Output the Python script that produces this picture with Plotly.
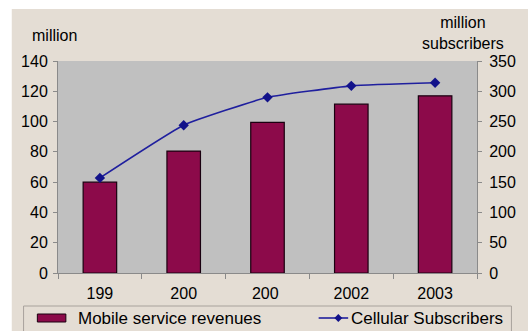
import plotly.graph_objects as go

years = ["199", "200", "200 ", "2002", "2003"]
revenues = [60, 80.5, 99.5, 111.5, 117]
subscribers = [157, 244, 290, 309, 314]
left_ticks = [0, 20, 40, 60, 80, 100, 120, 140]
right_ticks = [0, 50, 100, 150, 200, 250, 300, 350]

BEIGE = "#e4ddd4"
PLOT_BG = "#c0c0c0"
BAR = "#8c0a4a"
LINE = "#1f1f9e"
AX = "#8a8a8a"
FONT = "Liberation Sans, Arial, sans-serif"

W, H = 528, 331
L, R, T, B = 58, 44, 61, 58
PW, PH = W - L - R, H - T - B


def px(x):
    return (x - L) / PW


def py(y):
    return (H - B - y) / PH


fig = go.Figure()
fig.add_trace(go.Bar(
    x=years, y=revenues, name="Mobile service revenues",
    marker=dict(color=BAR, line=dict(color="#1a0010", width=1.2)),
    width=0.4, yaxis="y", showlegend=False,
))
fig.add_trace(go.Scatter(
    x=years, y=subscribers, name="Cellular Subscribers",
    mode="lines+markers", line=dict(color=LINE, width=1.6, shape="spline", smoothing=0.4),
    marker=dict(symbol="diamond", size=8, color="#12128a"),
    yaxis="y2", showlegend=False,
))

shapes = [
    # white margins top and left
    dict(type="rect", xref="paper", yref="paper", x0=-1, x1=2, y0=py(9), y1=py(-10),
         fillcolor="white", line=dict(width=0), layer="below"),
    dict(type="rect", xref="paper", yref="paper", x0=px(-10), x1=px(11), y0=-2, y1=2,
         fillcolor="white", line=dict(width=0), layer="below"),
    # legend box
    dict(type="rect", xref="paper", yref="paper", x0=px(23), x1=px(519), y0=py(345), y1=py(306),
         fillcolor=BEIGE, line=dict(color="#a8a29c", width=1)),
    dict(type="rect", xref="paper", yref="paper", x0=px(37), x1=px(66), y0=py(322), y1=py(314),
         fillcolor=BAR, line=dict(color="#1a0010", width=1)),
    dict(type="line", xref="paper", yref="paper", x0=px(323), x1=px(353), y0=py(318), y1=py(318),
         line=dict(color=LINE, width=1.6)),
    dict(type="path", xref="paper", yref="paper",
         path=f"M {px(339)},{py(318)} L {px(343)},{py(314)} L {px(347)},{py(318)} L {px(343)},{py(322)} Z",
         fillcolor="#12128a", line=dict(width=0)),
]


def ann(text, x, y, xanchor="center", size=15):
    return dict(text=text, xref="paper", yref="paper", x=px(x), y=py(y),
                xanchor=xanchor, yanchor="middle", showarrow=False,
                font=dict(size=size, color="black", family=FONT))


annotations = [
    ann("million", 54, 36, size=16),
    ann("million<br>subscribers", 470, 33.5, size=16),
    ann("Mobile service revenues", 76, 318, "left", 17),
    ann("Cellular Subscribers", 354, 318, "left", 17),
]

fig.update_layout(
    width=W, height=H,
    margin=dict(l=L, r=R, t=T, b=B, pad=0),
    paper_bgcolor=BEIGE, plot_bgcolor=PLOT_BG,
    font=dict(family=FONT, size=16, color="black"),
    showlegend=False,
    bargap=0.6,
    xaxis=dict(type="category", tickson="boundaries", ticks="outside", ticklen=5,
               tickcolor=AX, showline=True, linecolor=AX, linewidth=1,
               showgrid=False, zeroline=False, ticklabelstandoff=6,
               range=[-0.5, 4.5]),
    yaxis=dict(range=[0, 140], tickvals=left_ticks, ticks="outside", ticklen=4,
               tickcolor=AX, showline=True, linecolor=AX, showgrid=False,
               zeroline=False, ticklabelstandoff=2),
    yaxis2=dict(range=[0, 350], tickvals=right_ticks, overlaying="y", side="right",
                ticks="outside", ticklen=4, tickcolor=AX, showline=True, linecolor=AX,
                showgrid=False, zeroline=False, ticklabelstandoff=4),
    shapes=shapes,
    annotations=annotations,
)

fig.write_html("out.html")
